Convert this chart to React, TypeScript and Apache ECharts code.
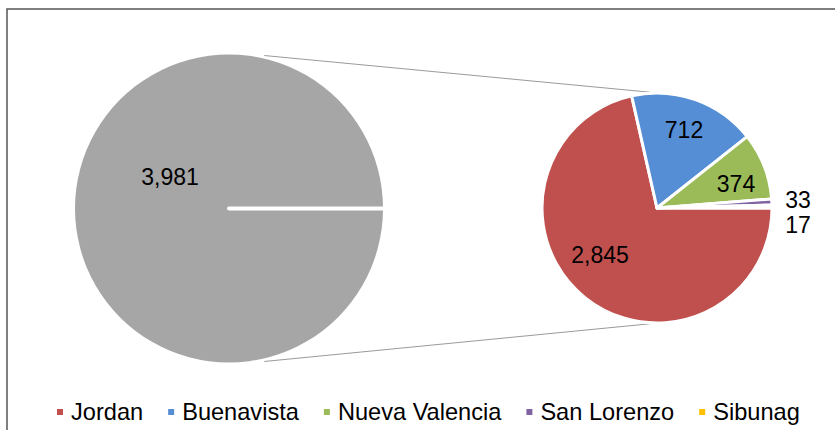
import React, { useEffect, useRef } from "react";
import * as echarts from "echarts";

// ---- data ----
const categories = ["Jordan", "Buenavista", "Nueva Valencia", "San Lorenzo", "Sibunag"];
const values = [2845, 712, 374, 33, 17];
const otherName = "Other";
const colors = ["#C0504D", "#558ED5", "#9BBB59", "#8064A2", "#FFC000"];
const otherColor = "#A6A6A6";

// ---- layout ----
const BIG = { cx: 229, cy: 208.5, r: 154 };
const SMALL = { cx: 657, cy: 208, r: 115 };
const bigLabelPos: [number, number] = [170, 177];
const smallLabelPos: Record<string, [number, number]> = {
  "Jordan": [600, 255],
  "Buenavista": [684, 130],
  "Nueva Valencia": [736, 184],
  "San Lorenzo": [798, 200],
  "Sibunag": [798, 225],
};
const FONT = 'Arial, "Liberation Sans", sans-serif';

const fmt = (v: number) => v.toLocaleString("en-US");

function polar(c: { cx: number; cy: number }, r: number, deg: number): [number, number] {
  const a = (deg * Math.PI) / 180;
  return [c.cx + r * Math.cos(a), c.cy - r * Math.sin(a)];
}

export default function App() {
  const ref = useRef<HTMLDivElement>(null);
  useEffect(() => {
    if (!ref.current) return;
    const chart = echarts.init(ref.current, undefined, { renderer: "svg" });
    const total = values.reduce((a, b) => a + b, 0);

    const t1 = polar(BIG, BIG.r + 3, 77);
    const t2 = polar(SMALL, SMALL.r + 1, 93.5);
    const b1 = polar(BIG, BIG.r + 3, -77);
    const b2 = polar(SMALL, SMALL.r + 1, -93.5);

    chart.setOption({
      animation: false,
      color: colors,
      legend: {
        data: categories,
        left: 50,
        top: 395,
        icon: "rect",
        itemWidth: 8,
        itemHeight: 8,
        itemGap: 23,
        textStyle: { fontFamily: FONT, fontSize: 23.6, color: "#000", padding: [0, 0, 0, 2] },
      },
      graphic: [
        {
          type: "rect",
          z: 0,
          shape: { x: 7, y: 9, width: 1000, height: 1000 },
          style: { fill: "none", stroke: "#555", lineWidth: 1.5 },
        },
        {
          type: "line",
          z: 1,
          shape: { x1: t1[0], y1: t1[1], x2: t2[0], y2: t2[1] },
          style: { stroke: "#9A9A9A", lineWidth: 1 },
        },
        {
          type: "line",
          z: 1,
          shape: { x1: b1[0], y1: b1[1], x2: b2[0], y2: b2[1] },
          style: { stroke: "#9A9A9A", lineWidth: 1 },
        },
        {
          type: "line",
          z: 100,
          shape: { x1: BIG.cx, y1: BIG.cy, x2: BIG.cx + BIG.r + 1, y2: BIG.cy },
          style: { stroke: "#fff", lineWidth: 4, lineCap: "round" },
        },
      ],
      series: [
        {
          type: "pie",
          center: [BIG.cx, BIG.cy],
          radius: BIG.r,
          startAngle: 0,
          clockwise: true,
          silent: true,
          avoidLabelOverlap: false,
          emphasis: { disabled: true },
          data: [{ name: otherName, value: total, itemStyle: { color: otherColor } }],
          itemStyle: { borderColor: "#fff", borderWidth: 0 },
          label: {
            show: true,
            position: "inside",
            formatter: (p: any) => fmt(p.value),
            fontFamily: FONT,
            fontSize: 23,
            color: "#000",
          },
          labelLine: { show: false },
          labelLayout: () => ({ x: bigLabelPos[0], y: bigLabelPos[1], align: "center", verticalAlign: "middle" }),
        },
        {
          type: "pie",
          center: [SMALL.cx, SMALL.cy],
          radius: SMALL.r,
          startAngle: 0,
          clockwise: true,
          silent: true,
          avoidLabelOverlap: false,
          emphasis: { disabled: true },
          data: categories.map((name, i) => ({
            name,
            value: values[i],
            itemStyle: { color: colors[i] },
            label: { position: i >= 3 ? "outside" : "inside" },
          })),
          itemStyle: { borderColor: "#fff", borderWidth: 3 },
          label: {
            show: true,
            formatter: (p: any) => fmt(p.value),
            fontFamily: FONT,
            fontSize: 23,
            color: "#000",
          },
          labelLine: { show: false },
          labelLayout: (params: any) => {
            const pos = smallLabelPos[categories[params.dataIndex]];
            return { x: pos[0], y: pos[1], align: "center", verticalAlign: "middle" };
          },
        },
      ],
    });
    return () => chart.dispose();
  }, []);

  return (
    <div style={{ position: "fixed", left: 0, top: 0, width: 835, height: 430, overflow: "hidden", background: "#fff" }}>
      <div ref={ref} style={{ width: 835, height: 430 }} />
    </div>
  );
}
